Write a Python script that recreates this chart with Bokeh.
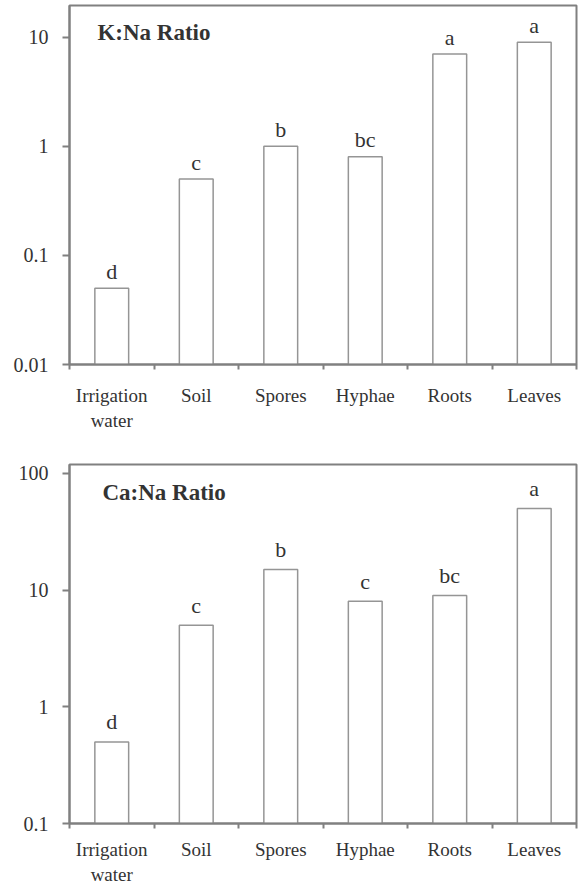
from bokeh.plotting import figure
from bokeh.layouts import column
from bokeh.models import (Range1d, FixedTicker, NumeralTickFormatter,
                          ColumnDataSource)
from bokeh.core.properties import value
from bokeh.embed import file_html
from bokeh.resources import INLINE

# Sample groups along the x axis
categories = ["Irrigation\nwater", "Soil", "Spores", "Hyphae", "Roots", "Leaves"]

# K:Na ratio per sample group, with significance letters
k_na = [0.05, 0.5, 1.0, 0.8, 7.0, 9.0]
k_na_letters = ["d", "c", "b", "bc", "a", "a"]
k_ticks = [0.01, 0.1, 1, 10]

# Ca:Na ratio per sample group, with significance letters
ca_na = [0.5, 5.0, 15.0, 8.0, 9.0, 50.0]
ca_na_letters = ["d", "c", "b", "c", "bc", "a"]
ca_ticks = [0.1, 1, 10, 100]

FONT = "Liberation Serif"
TEXT = "#333333"
AXIS = "#808080"
BAR_LINE = "#959595"


def make_panel(vals, letters, ticks, y_top, title, title_xy, height,
               borders, letter_gap, label_standoff):
    n = len(categories)
    left, right, top, bottom = borders
    p = figure(width=584, height=height, y_axis_type="log",
               x_range=Range1d(0, n), y_range=Range1d(ticks[0], y_top),
               output_backend="svg", toolbar_location=None,
               min_border_left=left, min_border_right=right,
               min_border_top=top, min_border_bottom=bottom)
    p.background_fill_color = "white"
    p.border_fill_color = "white"
    p.outline_line_color = AXIS
    p.outline_line_width = 2
    p.grid.visible = False

    centers = [i + 0.5 for i in range(n)]
    src = ColumnDataSource(dict(x=centers, top=vals, letter=letters,
                                bottom=[ticks[0]] * n))
    p.vbar(x="x", top="top", bottom="bottom", width=0.4, source=src,
           fill_color="white", line_color=BAR_LINE, line_width=1.5)
    p.text(x="x", y="top", text="letter", source=src,
           text_font=value(FONT), text_font_size="22px", text_color=TEXT,
           text_align="center", text_baseline="alphabetic",
           y_offset=-letter_gap)
    p.text(x=[title_xy[0]], y=[title_xy[1]], text=[title],
           text_font=value(FONT), text_font_size="23px",
           text_font_style="bold", text_color=TEXT,
           text_baseline="alphabetic", text_align="left")

    # y axis: plain decimal labels on each decade
    ya = p.yaxis[0]
    ya.ticker = FixedTicker(ticks=ticks)
    ya.formatter = NumeralTickFormatter(format="0.[00]")
    ya.axis_line_color = AXIS
    ya.axis_line_width = 2
    ya.major_tick_line_color = AXIS
    ya.major_tick_line_width = 2
    ya.major_tick_out = 7
    ya.major_tick_in = 0
    ya.minor_tick_line_color = None
    ya.major_label_text_font = FONT
    ya.major_label_text_font_size = "20px"
    ya.major_label_text_color = TEXT
    ya.major_label_standoff = 14

    # x axis: names at bar centres, short marks on group boundaries
    xa = p.xaxis[0]
    xa.ticker = FixedTicker(ticks=centers, minor_ticks=list(range(n + 1)))
    xa.major_label_overrides = {c: lab for c, lab in zip(centers, categories)}
    xa.axis_line_color = AXIS
    xa.axis_line_width = 2
    xa.major_tick_line_color = None
    xa.major_tick_out = 0
    xa.major_tick_in = 0
    xa.minor_tick_line_color = AXIS
    xa.minor_tick_line_width = 2
    xa.minor_tick_out = 5
    xa.minor_tick_in = 0
    xa.major_label_text_font = FONT
    xa.major_label_text_font_size = "19px"
    xa.major_label_text_color = TEXT
    xa.major_label_standoff = label_standoff
    return p


p1 = make_panel(k_na, k_na_letters, k_ticks, 19.5, "K:Na Ratio", (0.33, 11.1),
                440, (69, 8, 5, 76), 17, 15)
p2 = make_panel(ca_na, ca_na_letters, ca_ticks, 119.0, "Ca:Na Ratio", (0.39, 68.9),
                447, (68, 1, 24, 64), 20, 10)

layout = column(p1, p2, spacing=0)
open("out.html", "w").write(file_html(layout, INLINE))
